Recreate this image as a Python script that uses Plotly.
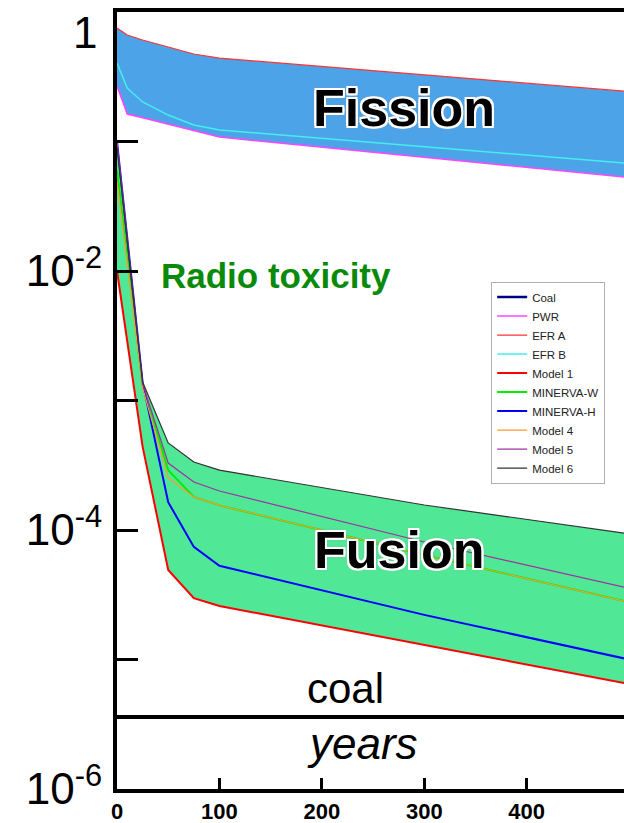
import plotly.graph_objects as go

# ---------------- data ----------------
YEARS_FISSION = [0, 10, 25, 50, 75, 100, 500]
PWR   = [0.268, 0.163, 0.1525, 0.136, 0.1214, 0.1083, 0.0527]
EFR_A = [0.752, 0.664, 0.608, 0.537, 0.474, 0.441, 0.243]
EFR_B = [0.404, 0.259, 0.202, 0.160, 0.134, 0.1227, 0.0676]

YEARS_FUSION = [0, 25, 50, 75, 100, 300, 500]
MODEL_1    = [1.0e-2, 4.4e-4, 4.91e-5, 2.98e-5, 2.59e-5, 1.29e-5, 6.47e-6]
MINERVA_W  = [0.06, 1.3e-3, 2.9e-4, 1.80e-4, 1.55e-4, 6.41e-5, 2.77e-5]
MINERVA_H  = [0.1, 1.38e-3, 1.64e-4, 7.40e-5, 5.3e-5, 2.21e-5, 1.0e-5]
MODEL_4    = [0.05, 1.25e-3, 2.52e-4, 1.80e-4, 1.55e-4, 6.41e-5, 2.77e-5]
MODEL_5    = [0.1, 1.35e-3, 3.29e-4, 2.35e-4, 2.0e-4, 8.08e-5, 3.55e-5]
MODEL_6    = [0.09, 1.39e-3, 4.70e-4, 3.35e-4, 2.90e-4, 1.56e-4, 9.35e-5]

COAL_X = [0, 500]
COAL_LEVEL = 3.6e-6

X_TICKS = [0, 100, 200, 300, 400]
Y_TICKVALS = [1e-6, 1e-5, 1e-4, 1e-3, 1e-2, 1e-1, 1]
Y_TICKTEXT = ["10<sup>-6</sup>", "", "10<sup>-4</sup>", "", "10<sup>-2</sup>", "", ""]

FONT = "Arial, Liberation Sans, sans-serif"

fig = go.Figure()

# fission band fill
fig.add_trace(go.Scatter(
    x=YEARS_FISSION + YEARS_FISSION[::-1],
    y=EFR_A + PWR[::-1],
    fill="toself", fillcolor="#4da3e8", line=dict(width=0),
    mode="lines", showlegend=False, hoverinfo="skip"))

# fusion band fill
fig.add_trace(go.Scatter(
    x=YEARS_FUSION + YEARS_FUSION[::-1],
    y=MODEL_6 + MODEL_1[::-1],
    fill="toself", fillcolor="#50e896", line=dict(width=0),
    mode="lines", showlegend=False, hoverinfo="skip"))

# coal line (drawn) + legend entry
fig.add_trace(go.Scatter(x=COAL_X, y=[COAL_LEVEL] * len(COAL_X), mode="lines",
                         line=dict(color="black", width=4), showlegend=False))
fig.add_trace(go.Scatter(x=[None], y=[None], mode="lines", name="Coal",
                         line=dict(color="#000080", width=2.5)))

series = [
    ("PWR", YEARS_FISSION, PWR, "#ff44ff", 1.5, "solid"),
    ("EFR A", YEARS_FISSION, EFR_A, "#ff3333", 1.2, "solid"),
    ("EFR B", YEARS_FISSION, EFR_B, "#44eeee", 1.5, "solid"),
    ("Model 1", YEARS_FUSION, MODEL_1, "#ff0000", 2, "solid"),
    ("MINERVA-W", YEARS_FUSION, MINERVA_W, "#00ee00", 2, "solid"),
    ("MINERVA-H", YEARS_FUSION, MINERVA_H, "#0000ff", 2, "solid"),
    ("Model 4", YEARS_FUSION, MODEL_4, "#ff9933", 1.2, "solid"),
    ("Model 5", YEARS_FUSION, MODEL_5, "#a030a0", 1.2, "solid"),
    ("Model 6", YEARS_FUSION, MODEL_6, "#333333", 1.2, "solid"),
]
for name, xs, ys, col, w, dash in series:
    fig.add_trace(go.Scatter(x=xs, y=ys, mode="lines", name=name,
                             line=dict(color=col, width=w, dash=dash)))

outline = ("2px 0 0 white, -2px 0 0 white, 0 2px 0 white, 0 -2px 0 white, "
           "2px 2px 0 white, -2px -2px 0 white, 2px -2px 0 white, -2px 2px 0 white, "
           "0 0 4px #999")

def add_text(txt, xp, yp, size, color="black", weight="normal", style="normal", shadow=None):
    f = dict(family=FONT, size=size, color=color, weight=weight, style=style)
    if shadow:
        f["shadow"] = shadow
    fig.add_annotation(text=txt, xref="paper", yref="paper", x=xp, y=yp,
                       xanchor="center", yanchor="middle", showarrow=False, font=f)

add_text("Fission", 0.566, 0.876, 52, weight="bold", shadow=outline)
add_text("Fusion", 0.556, 0.3076, 52, weight="bold", shadow=outline)
add_text("Radio toxicity", 0.3136, 0.661, 35, color="#0a8a0a", weight="bold")
add_text("coal", 0.45, 0.129, 42)
add_text("years", 0.485, 0.058, 44, style="italic")

# top "1" label (sits below the clipped top edge in the reference)
fig.add_annotation(text="1", xref="paper", yref="paper", x=-0.036, y=0.973,
                   xanchor="right", yanchor="middle", showarrow=False,
                   font=dict(family=FONT, size=44, color="black"))

fig.update_layout(
    width=624, height=823,
    margin=dict(l=117, r=0, t=12, b=34),
    plot_bgcolor="white", paper_bgcolor="white",
    font=dict(family=FONT, color="black"),
    legend=dict(x=0.738, y=0.653, xanchor="left", yanchor="top",
                bgcolor="white", bordercolor="#b0b0b0", borderwidth=1,
                font=dict(family=FONT, size=11.5, color="#222222"),
                itemwidth=30, tracegroupgap=0),
    xaxis=dict(range=[0, 495], showline=True, linewidth=4, linecolor="black",
               mirror=True, ticks="inside", ticklen=11, tickwidth=3, tickcolor="black",
               tickvals=X_TICKS, tickfont=dict(family=FONT, size=22, weight="bold"),
               showgrid=False, zeroline=False),
    yaxis=dict(type="log", range=[-6, 0], showline=True, linewidth=4, linecolor="black",
               ticks="inside", ticklen=21, tickwidth=3, tickcolor="black",
               tickvals=Y_TICKVALS, ticktext=Y_TICKTEXT, ticklabelstandoff=2,
               tickfont=dict(family=FONT, size=44),
               showgrid=False, zeroline=False),
)

fig.write_html("out.html")
